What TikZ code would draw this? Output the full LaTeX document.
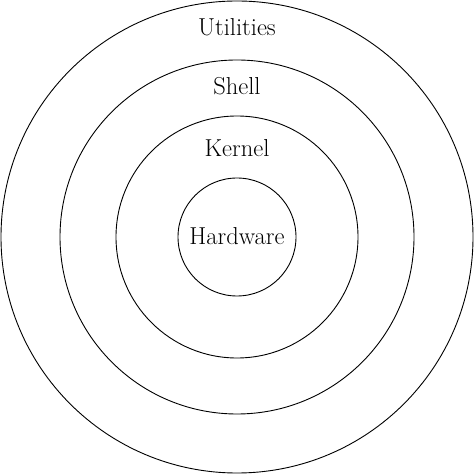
\documentclass[tikz,border=0pt]{standalone}
\begin{document}
\begin{tikzpicture}[x=1pt,y=1pt,
  ring/.style={draw=black,line width=0.9pt},
  lbl/.style={font=\fontsize{24.5}{28}\selectfont,inner sep=0pt,anchor=base}]
\useasboundingbox (0,0) rectangle (474,474);
\coordinate (c) at (237,237);
\draw[ring] (c) circle[radius=236];
\draw[ring] (c) circle[radius=177];
\draw[ring] (c) circle[radius=121];
\draw[ring] (c) circle[radius=59];
\node[lbl] (util) at (237,438) {Utilities};
\node[lbl] (shell) at (237,379) {Shell};
\node[lbl] (kernel) at (237,317) {Kernel};
\node[lbl] (hw) at (237,229) {Hardware};
\end{tikzpicture}
\end{document}
